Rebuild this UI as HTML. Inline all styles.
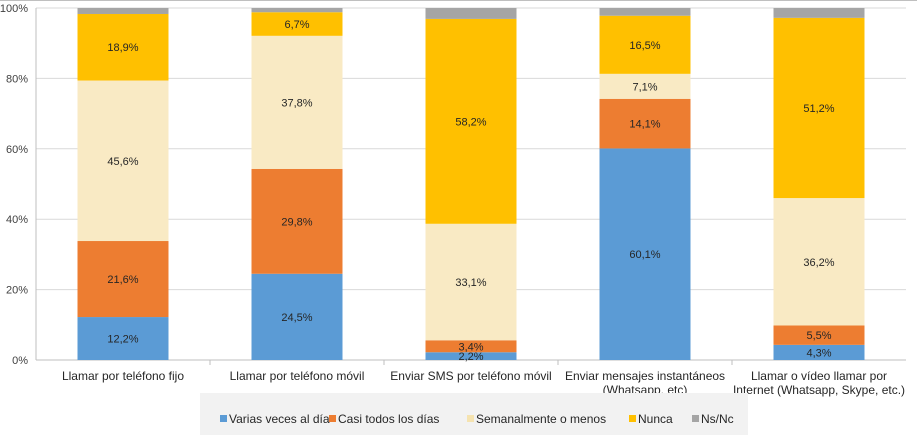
<!DOCTYPE html>
<html><head><meta charset="utf-8">
<style>
html,body{margin:0;padding:0;background:#fff;}
svg{display:block;font-family:"Liberation Sans",Arial,sans-serif;}
</style></head>
<body>
<svg id="chart" width="917" height="435" xmlns="http://www.w3.org/2000/svg"></svg>
<script>
const categories = [["Llamar por teléfono fijo"],["Llamar por teléfono móvil"],["Enviar SMS por teléfono móvil"],["Enviar mensajes instantáneos","(Whatsapp, etc)"],["Llamar o vídeo llamar por","Internet (Whatsapp, Skype, etc.)"]];
const seriesNames = ["Varias veces al día","Casi todos los días","Semanalmente o menos","Nunca","Ns/Nc"];
const variasVeces = [12.2,24.5,2.2,60.1,4.3];
const casiTodos = [21.6,29.8,3.4,14.1,5.5];
const semanalmente = [45.6,37.8,33.1,7.1,36.2];
const nunca = [18.9,6.7,58.2,16.5,51.2];
const nsnc = [1.7,1.2,3.1,2.2,2.8];
const yTicks = [0,20,40,60,80,100];
const colors = ["#5b9bd5","#ed7d31","#f9eac4","#ffc000","#a5a5a5"];
const series = [variasVeces,casiTodos,semanalmente,nunca,nsnc];

const svg = document.getElementById('chart');
const NS = "http://www.w3.org/2000/svg";
const X0 = 36, X1 = 906, Y0 = 360, Y1 = 8;
const catW = (X1-X0)/categories.length, barW = 91;
const y = v => Y0 - (Y1 - Y0) * -v/100;
const xc = i => X0 + catW*(i+0.5);
function mk(tag, attrs){const e=document.createElementNS(NS,tag);for(const k in attrs)e.setAttribute(k,attrs[k]);svg.appendChild(e);return e;}

// gridlines & y ticks
yTicks.forEach(t=>{
  const g = mk('line',{x1:X0,x2:X1,y1:y(t),y2:y(t),stroke:t===0?'#bfbfbf':'#d9d9d9','stroke-width':1});
  
  
  const l = mk('text',{x:X0-8,y:y(t)+4,'text-anchor':'end','font-size':11,fill:'#404040'});
  l.textContent = t+'%';
  
  
});
mk('line',{x1:X0,x2:X0,y1:Y1,y2:Y0,stroke:'#bfbfbf'});
mk('line',{x1:0,x2:917,y1:0.5,y2:0.5,stroke:'#bfbfbf'});
for(let i=1;i<categories.length;i++){
  const tk = mk('line',{x1:X0+catW*i,x2:X0+catW*i,y1:Y0,y2:Y0+5,stroke:'#bfbfbf'});
  
  
}

// bars
categories.forEach((c,i)=>{
  let acc = 0;
  series.forEach((s,k)=>{
    const v = s[i];
    const r = mk('rect',{x:xc(i)-barW/2,y:y(acc+v),width:barW,height:y(acc)-y(acc+v),fill:colors[k]});
    
    
    if(k<4){
      const t = mk('text',{x:xc(i),y:(y(acc)+y(acc+v))/2+4,'text-anchor':'middle','font-size':11,fill:'#262626'});
      t.textContent = v.toFixed(1).replace('.',',')+'%';
      
      
    }
    acc += v;
  });
  c.forEach((line,j)=>{
    const t = mk('text',{x:xc(i),y:380+j*14,'text-anchor':'middle','font-size':12,fill:'#262626'});
    t.textContent = line;
    
    
  });
});

// legend
const lb = mk('rect',{x:200,y:393,width:548,height:42,fill:'#f2f2f2'});


const legX = [220,329,467,629,692];
seriesNames.forEach((n,k)=>{
  const sw = mk('rect',{x:legX[k],y:415,width:7,height:7,fill:colors[k]==='#f9eac4'?'#f5e3b0':colors[k]});
  
  
  const t = mk('text',{x:legX[k]+9,y:423,'font-size':12,fill:'#262626'});
  t.textContent = n;
  
  
});
</script>
</body></html>
